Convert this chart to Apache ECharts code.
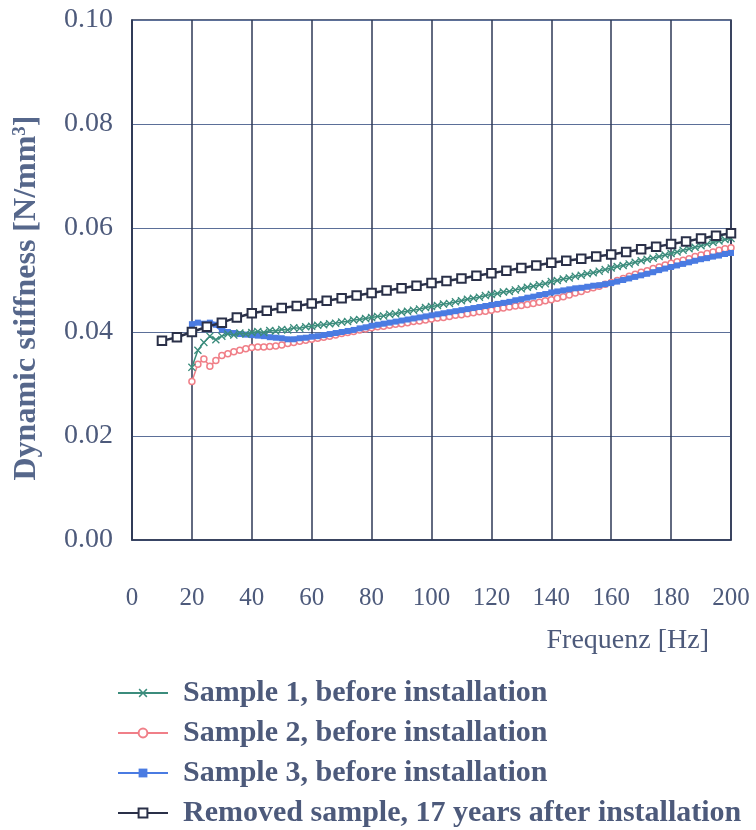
<!DOCTYPE html>
<html>
<head>
<meta charset="utf-8">
<script src="https://cdn.jsdelivr.net/npm/echarts@6/dist/echarts.min.js"></script>
<style>html,body{margin:0;padding:0;background:#fff;}#c{width:756px;height:830px;}</style>
</head>
<body>
<div id="c"></div>
<script>
const xTicks = [0, 20, 40, 60, 80, 100, 120, 140, 160, 180, 200];
const yTicks = [0.00, 0.02, 0.04, 0.06, 0.08, 0.10];

const freqSamples = [20,22,24,26,28,30,32,34,36,38,40,42,44,46,48,50,52,54,56,58,60,62,64,66,68,70,72,74,76,78,80,82,84,86,88,90,92,94,96,98,100,102,104,106,108,110,112,114,116,118,120,122,124,126,128,130,132,134,136,138,140,142,144,146,148,150,152,154,156,158,160,162,164,166,168,170,172,174,176,178,180,182,184,186,188,190,192,194,196,198,200];

const sample1 = [0.0332,0.0365,0.0380,0.0392,0.0385,0.0392,0.0396,0.0394,0.0398,0.0396,0.0399,0.0401,0.0399,0.0403,0.0402,0.0405,0.0404,0.0408,0.0407,0.0410,0.0411,0.0413,0.0414,0.0416,0.0417,0.0419,0.0420,0.0423,0.0424,0.0426,0.0428,0.0430,0.0431,0.0434,0.0435,0.0438,0.0440,0.0442,0.0444,0.0447,0.0449,0.0451,0.0454,0.0455,0.0458,0.0460,0.0463,0.0465,0.0467,0.0470,0.0472,0.0474,0.0477,0.0478,0.0481,0.0483,0.0486,0.0488,0.0491,0.0493,0.0497,0.0499,0.0502,0.0504,0.0507,0.0509,0.0512,0.0514,0.0517,0.0520,0.0523,0.0526,0.0528,0.0531,0.0534,0.0537,0.0540,0.0542,0.0545,0.0548,0.0551,0.0554,0.0557,0.0560,0.0563,0.0566,0.0569,0.0572,0.0575,0.0578,0.0580];

const sample2 = [0.0305,0.0338,0.0348,0.0334,0.0345,0.0355,0.0358,0.0362,0.0365,0.0368,0.0370,0.0371,0.0371,0.0372,0.0373,0.0375,0.0378,0.0380,0.0382,0.0384,0.0386,0.0388,0.0390,0.0392,0.0394,0.0397,0.0399,0.0401,0.0404,0.0406,0.0408,0.0410,0.0411,0.0413,0.0415,0.0416,0.0418,0.0420,0.0421,0.0423,0.0425,0.0427,0.0428,0.0430,0.0432,0.0433,0.0435,0.0437,0.0439,0.0440,0.0442,0.0444,0.0446,0.0448,0.0450,0.0451,0.0453,0.0455,0.0457,0.0460,0.0462,0.0465,0.0468,0.0471,0.0475,0.0478,0.0482,0.0485,0.0488,0.0492,0.0495,0.0499,0.0503,0.0507,0.0511,0.0515,0.0518,0.0522,0.0525,0.0529,0.0532,0.0535,0.0538,0.0541,0.0545,0.0548,0.0551,0.0554,0.0557,0.0560,0.0562];

const sample3 = [0.0415,0.0418,0.0416,0.0418,0.0414,0.0405,0.0400,0.0398,0.0396,0.0395,0.0394,0.0393,0.0392,0.0390,0.0389,0.0388,0.0386,0.0386,0.0388,0.0389,0.0391,0.0392,0.0394,0.0396,0.0398,0.0400,0.0402,0.0404,0.0407,0.0409,0.0412,0.0414,0.0416,0.0418,0.0420,0.0422,0.0424,0.0426,0.0428,0.0430,0.0432,0.0434,0.0436,0.0438,0.0440,0.0442,0.0444,0.0446,0.0448,0.0450,0.0452,0.0454,0.0456,0.0458,0.0461,0.0463,0.0466,0.0468,0.0471,0.0473,0.0476,0.0478,0.0480,0.0482,0.0484,0.0485,0.0487,0.0489,0.0490,0.0492,0.0494,0.0497,0.0500,0.0503,0.0506,0.0509,0.0512,0.0515,0.0519,0.0522,0.0525,0.0528,0.0531,0.0534,0.0537,0.0540,0.0542,0.0545,0.0547,0.0550,0.0552];

const freqRemoved = [10,15,20,25,30,35,40,45,50,55,60,65,70,75,80,85,90,95,100,105,110,115,120,125,130,135,140,145,150,155,160,165,170,175,180,185,190,195,200];
const removed = [0.0383,0.0390,0.0400,0.0410,0.0418,0.0428,0.0436,0.0441,0.0446,0.0450,0.0455,0.0460,0.0465,0.0470,0.0475,0.0480,0.0484,0.0489,0.0494,0.0498,0.0503,0.0508,0.0513,0.0518,0.0523,0.0528,0.0533,0.0537,0.0541,0.0545,0.0549,0.0554,0.0559,0.0564,0.0569,0.0574,0.0580,0.0585,0.0590];

const names = ['Sample 1, before installation','Sample 2, before installation','Sample 3, before installation','Removed sample, 17 years after installation'];

const pair = (xs, ys) => xs.map((x, i) => [x, ys[i]]);
const textColor = '#4d5a7b';
const nameColor = '#56678b';
const serif = '"Liberation Serif", "DejaVu Serif", serif';
const crossPath = 'path://M0,1.2L1.2,0L5,3.8L8.8,0L10,1.2L6.2,5L10,8.8L8.8,10L5,6.2L1.2,10L0,8.8L3.8,5Z';

const chart = echarts.init(document.getElementById('c'), null, {renderer: 'canvas'});
chart.setOption({
  animation: false,
  backgroundColor: '#ffffff',
  grid: {left: 132, right: 25, top: 20, bottom: 290, show: true, borderColor: '#2e3856', borderWidth: 1.5, backgroundColor: 'transparent'},
  xAxis: {
    type: 'value', min: 0, max: 200, interval: 20,
    axisLine: {show: true, lineStyle: {color: '#2e3856', width: 1.5}},
    axisTick: {show: false},
    splitLine: {show: true, lineStyle: {color: '#2e3856', width: 1.5}},
    axisLabel: {color: textColor, fontFamily: serif, fontSize: 25, margin: 46,
      formatter: v => xTicks.includes(v) ? String(v) : ''}
  },
  yAxis: {
    type: 'value', min: 0, max: 0.10, interval: 0.02,
    axisLine: {show: true, lineStyle: {color: '#2e3856', width: 1.5}},
    axisTick: {show: false},
    splitLine: {show: true, lineStyle: {color: '#5b6f98', width: 1}},
    axisLabel: {color: textColor, fontFamily: serif, fontSize: 28, margin: 19,
      formatter: v => { const t = yTicks.find(k => Math.abs(k - v) < 1e-9); return t === undefined ? '' : t.toFixed(2); }}
  },
  legend: {
    orient: 'vertical', left: 117, top: 678, padding: 0, itemGap: 10,
    itemWidth: 50, itemHeight: 11,
    textStyle: {color: textColor, fontFamily: serif, fontSize: 30, fontWeight: 'bold', lineHeight: 30, padding: [0,0,0,10]},
    data: names
  },
  graphic: [{
    type: 'text', right: 47, top: 627,
    style: {text: 'Frequenz [Hz]', fill: textColor, font: '28px ' + serif}
  }, {
    type: 'text', x: 27, y: 298, rotation: Math.PI / 2,
    style: {
      text: 'Dynamic stiffness [N/mm{sup|3}]',
      fill: nameColor, font: 'bold 32px ' + serif, align: 'center', verticalAlign: 'middle',
      rich: {sup: {font: 'bold 19px ' + serif, fill: nameColor, padding: [0,0,14,0]}}
    }
  }],
  series: [
    {name: names[1], type: 'line', data: pair(freqSamples, sample2), z: 2,
      lineStyle: {color: '#f07f88', width: 1.5}, symbol: 'circle', symbolSize: 6, showAllSymbol: true,
      itemStyle: {color: '#ffffff', borderColor: '#f07f88', borderWidth: 1.5}},
    {name: names[2], type: 'line', data: pair(freqSamples, sample3), z: 3,
      lineStyle: {color: '#4a7be2', width: 4.5}, symbol: 'rect', symbolSize: [6, 6], showAllSymbol: true,
      itemStyle: {color: '#4a7be2'}},
    {name: names[0], type: 'line', data: pair(freqSamples, sample1), z: 4,
      lineStyle: {color: '#3b8c7c', width: 1.5}, symbol: crossPath, symbolSize: 8, showAllSymbol: true,
      itemStyle: {color: '#3b8c7c'}},
    {name: names[3], type: 'line', data: pair(freqRemoved, removed), z: 5,
      lineStyle: {color: '#2a3048', width: 2.5}, symbol: 'rect', symbolSize: 8.5, showAllSymbol: true,
      itemStyle: {color: '#ffffff', borderColor: '#2a3048', borderWidth: 2}}
  ]
});
</script>
</body>
</html>
